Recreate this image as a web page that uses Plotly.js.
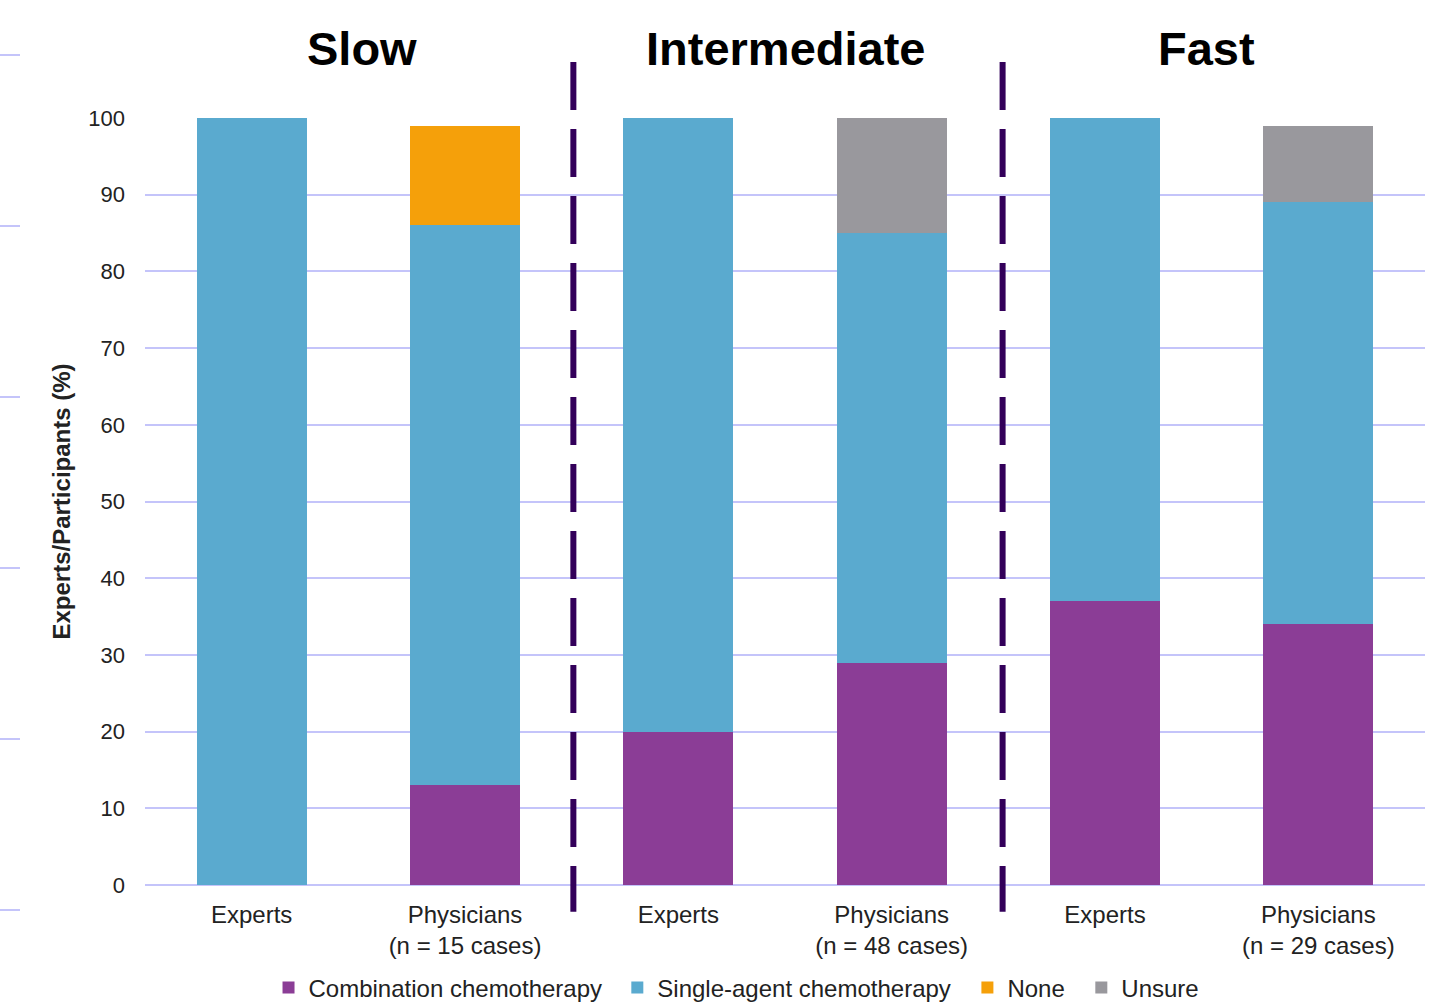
<!DOCTYPE html>
<html>
<head>
<meta charset="utf-8">
<script src="https://cdn.plot.ly/plotly-3.0.1.min.js"></script>
<style>html,body{margin:0;padding:0;background:#fff;}#chart{width:1445px;height:1004px;}</style>
</head>
<body>
<div id="chart"></div>
<script>
// Categories (x positions) and tick labels
var categories = ["slowExp", "slowPhys", "intExp", "intPhys", "fastExp", "fastPhys"];
var tickLabels = ["Experts", "Physicians<br>(n = 15 cases)", "Experts", "Physicians<br>(n = 48 cases)", "Experts", "Physicians<br>(n = 29 cases)"];
var groupNames = ["Slow", "Intermediate", "Fast"];

// Series values (% of experts / participants)
var combination = [0, 13, 20, 29, 37, 34];
var singleAgent = [100, 73, 80, 56, 63, 55];
var none = [0, 13, 0, 0, 0, 0];
var unsure = [0, 0, 0, 15, 0, 10];

var seriesNames = ["Combination chemotherapy", "Single-agent chemotherapy", "None", "Unsure"];
var seriesColors = ["#8b3d96", "#5aaacf", "#f5a00a", "#99989d"];
var seriesValues = [combination, singleAgent, none, unsure];

var legendIds = ["legend", "legend2", "legend3", "legend4"];
var legendX = [0.0965, 0.369, 0.6425, 0.7315];

var traces = seriesValues.map(function (vals, i) {
  return {
    type: "bar",
    name: seriesNames[i],
    x: categories,
    y: vals,
    legend: legendIds[i],
    marker: { color: seriesColors[i], line: { width: 0 } },
    hoverinfo: "name+y"
  };
});

var gridColor = "#c4c4fa";

var shapes = [];
// dashed group separators
[1.508, 3.52].forEach(function (xv) {
  shapes.push({
    type: "line", xref: "x", yref: "paper",
    x0: xv, x1: xv, y0: 1.073, y1: -0.035,
    line: { color: "#33005a", width: 6, dash: "48px,19px" }
  });
});
// small stray marks along the left edge
[55, 226, 397, 568, 739, 910].forEach(function (py) {
  var yp = (885 - py) / 767;
  shapes.push({
    type: "line", xref: "paper", yref: "paper",
    x0: -145 / 1280, x1: -125 / 1280, y0: yp, y1: yp,
    line: { color: gridColor, width: 2 }
  });
});

var groupX = [0.517, 2.5, 4.478];
var annotations = groupNames.map(function (g, i) {
  return {
    text: "<b>" + g + "</b>",
    xref: "x", yref: "paper",
    x: groupX[i], y: (885 - 48) / 767,
    xanchor: "center", yanchor: "middle",
    showarrow: false,
    font: { family: "Liberation Sans, Arial, sans-serif", size: 47, color: "#000" }
  };
});

var layout = {
  width: 1445, height: 1004,
  margin: { l: 145, r: 20, t: 118, b: 119, autoexpand: false },
  paper_bgcolor: "#fff", plot_bgcolor: "#fff",
  barmode: "stack",
  bargap: 0.484,
  font: { family: "Liberation Sans, Arial, sans-serif", color: "#222" },
  showlegend: true,
  xaxis: {
    type: "category",
    range: [-0.5, 5.5],
    tickmode: "array",
    tickvals: categories,
    ticktext: tickLabels,
    tickfont: { size: 24, color: "#222" },
    showgrid: false,
    zeroline: false,
    showline: false,
    ticks: "",
    ticklabelstandoff: 13,
    automargin: false,
    fixedrange: true
  },
  yaxis: {
    range: [0, 100],
    tickmode: "array",
    tickvals: [0, 10, 20, 30, 40, 50, 60, 70, 80, 90, 100],
    tickfont: { size: 22, color: "#222" },
    showgrid: true,
    gridcolor: gridColor,
    gridwidth: 2,
    zeroline: true,
    zerolinecolor: gridColor,
    zerolinewidth: 2,
    showline: false,
    ticks: "",
    ticklabelstandoff: 19,
    automargin: false,
    title: { text: "<b>Experts/Participants (%)</b>", font: { size: 24, color: "#222" }, standoff: 10 },
    fixedrange: true
  },
  shapes: shapes,
  annotations: annotations
};

legendIds.forEach(function (id, i) {
  layout[id] = {
    orientation: "h",
    x: legendX[i], xanchor: "left",
    y: -0.134, yanchor: "middle",
    font: { size: 24, color: "#222" },
    bgcolor: "rgba(0,0,0,0)",
    itemclick: false
  };
});

Plotly.newPlot("chart", traces, layout, { displayModeBar: false });
</script>
</body>
</html>
